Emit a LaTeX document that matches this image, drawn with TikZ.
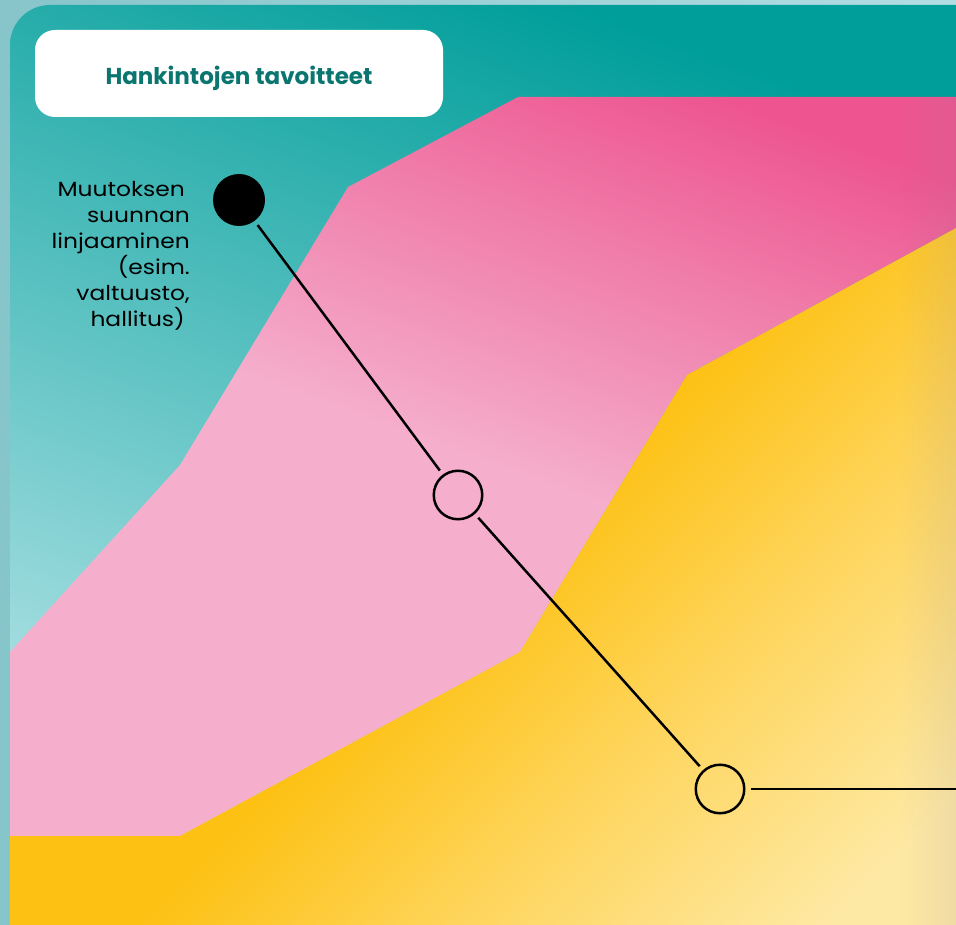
\documentclass[tikz,border=0pt]{standalone}
\usepackage{fontspec}
\usetikzlibrary{fadings}
\setmainfont{Poppins}
\newfontfamily\labfont[FakeStretch=1.14]{Poppins}
\definecolor{outerL}{HTML}{86C5CA}
\definecolor{outerR}{HTML}{B2DDE3}
\definecolor{tealD}{HTML}{009E9A}
\definecolor{tealM}{HTML}{5CC8C8}
\definecolor{tealL}{HTML}{BAE6EA}
\definecolor{pinkD}{HTML}{EE5590}
\definecolor{pinkM}{HTML}{F07FAB}
\definecolor{pinkN}{HTML}{F295BA}
\definecolor{pinkL}{HTML}{F5AFCC}
\definecolor{yelD}{HTML}{FDC113}
\definecolor{yelM}{HTML}{FED55C}
\definecolor{yelL}{HTML}{FEE9A4}
\definecolor{edgetint}{HTML}{8F7F9A}
\definecolor{titletext}{HTML}{0B7570}
\pgfdeclareverticalshading{pinkshade}{100bp}{color(0bp)=(pinkL); color(50bp)=(pinkL); color(58bp)=(pinkN); color(65bp)=(pinkM); color(77bp)=(pinkD); color(100bp)=(pinkD)}
\pgfdeclarehorizontalshading{yelshade}{100bp}{color(0bp)=(yelD); color(50bp)=(yelD); color(64bp)=(yelM); color(80bp)=(yelL); color(100bp)=(yelL)}
\tikzset{
  dotfill/.style={circle, fill=black, minimum size=52pt, inner sep=0pt},
  dotring/.style={circle, draw=black, line width=2.5pt, minimum size=48.5pt, inner sep=0pt},
  link/.style={line width=2.5pt, shorten <=5pt, shorten >=5pt},
  titlebox/.style={fill=white, rounded corners=20pt, minimum width=408pt, minimum height=87pt, inner sep=0pt, text height=23pt, text depth=0pt, font=\fontsize{23}{26}\selectfont\bfseries, text=titletext},
  labeltext/.style={align=right, anchor=north east, inner sep=0pt, font=\labfont\fontsize{20.5}{26}\selectfont}
}
\begin{document}
\begin{tikzpicture}[x=1pt,y=-1pt]
\useasboundingbox (0,0) rectangle (956,925);
\shade[left color=outerL, right color=outerR] (0,0) rectangle (956,925);
\begin{scope}
\clip[rounded corners=40pt] (10,5) rectangle (1020,990);
\shade[shading=axis, top color=tealD, middle color=tealM, bottom color=tealL, shading angle=-20] (10,5) rectangle (956,925);
\shade[shading=pinkshade, shading angle=-20]
  (10,652) -- (180,465) -- (348,187) -- (518,97) -- (956,97) -- (956,228) -- (687,375) -- (520,652) -- (180,836) -- (10,836) -- cycle;
\shade[shading=yelshade, shading angle=-45]
  (10,836) -- (180,836) -- (520,652) -- (687,375) -- (956,228) -- (956,925) -- (10,925) -- cycle;
\fill[edgetint, opacity=0.12, path fading=west] (900,97) rectangle (956,925);
\end{scope}
\node[titlebox] (title) at (239,73.5) {Hankintojen tavoitteet};
\node[labeltext] (lab) at (190,181) {Muutoksen\hspace*{5pt}\\suunnan\hspace*{5pt}\\linjaaminen\hspace*{5pt}\\(esim.\\valtuusto,\\hallitus)\hspace*{5pt}};
\node[dotfill] (a) at (239,200) {};
\node[dotring] (b) at (458,495) {};
\node[dotring] (c) at (720,789) {};
\coordinate (edge) at (956,789);
\draw[link] (a) -- (b);
\draw[link] (b) -- (c);
\draw[line width=2.5pt, shorten <=5pt] (c) -- (edge);
\end{tikzpicture}
\end{document}
